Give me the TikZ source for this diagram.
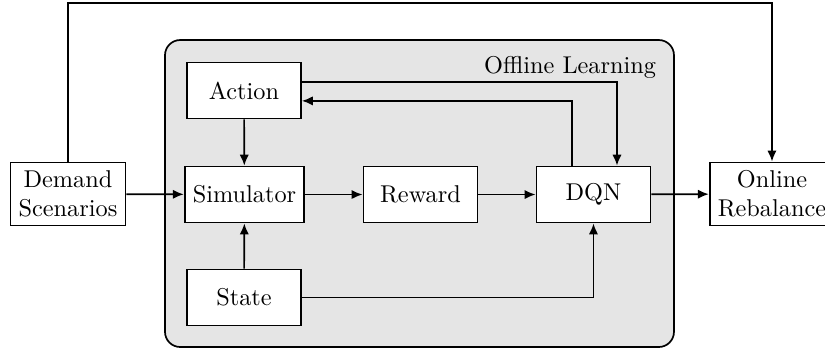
\documentclass[tikz,border=0pt]{standalone}
\usepackage{tikz}
\usetikzlibrary{calc,arrows.meta}

\begin{document}
\begin{tikzpicture}[
	line width=0.7pt,
	block/.style={draw, fill=white, minimum width=1.65cm, minimum height=0.81cm},
	io/.style={draw, fill=white, align=center},
	wire/.style={-{Latex[length=4.5pt,width=3.8pt]}}
]
	\useasboundingbox (0,0) rectangle (11.93,5.09);
	%draw offline learning area
	\draw[fill=gray!20, rounded corners=0.22cm] (2.386,0.072) rectangle (9.746,4.511);
	\node[anchor=east] (offline) at (9.617,4.121) {Offline Learning};
	%draw nodes
	\node[io] (demand) at (0.983,2.285) {Demand\\Scenarios};
	\node[block] (action) at (3.528,3.781) {Action};
	\node[block] (sim) at (3.535,2.277) {Simulator};
	\node[block] (state) at (3.528,0.788) {State};
	\node[block] (reward) at (6.080,2.277) {Reward};
	\node[block] (dqn) at (8.582,2.277) {DQN};
	\node[io] (online) at (11.163,2.285) {Online\\Rebalance};
	%draw arrows
	\draw[wire] (demand) -- (sim);
	\draw[wire] (action) -- (sim);
	\draw[wire] (state) -- (sim);
	\draw[wire] (sim) -- (reward);
	\draw[wire] (reward) -- (dqn);
	\draw[wire] (dqn) -- (online);
	\draw[wire] ([yshift=0.12cm]action.east) -| ([xshift=0.34cm]dqn.north);
	\draw[wire] ([xshift=-0.31cm]dqn.north) |- ([yshift=-0.15cm]action.east);
	\draw[wire] (state) -| (dqn);
	\draw[wire] (demand.north) |- (11.163,5.047) -- (online.north);
\end{tikzpicture}
\end{document}
